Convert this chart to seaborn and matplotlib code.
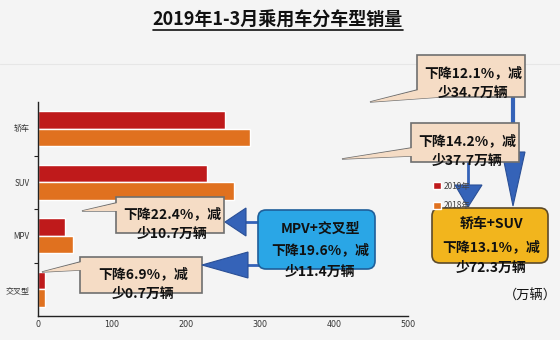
import matplotlib
matplotlib.use("Agg")
import matplotlib.pyplot as plt
import seaborn as sns
import pandas as pd
from matplotlib.patches import Polygon, FancyBboxPatch, Rectangle

categories = ["轿车", "SUV", "MPV", "交叉型"]
sales_2019 = [252.1, 227.8, 37.1, 9.4]
sales_2018 = [286.8, 265.5, 47.8, 10.1]
series = ["2019年", "2018年"]
colors = ["#bf1a1b", "#e0711f"]
x_ticks = [0, 100, 200, 300, 400, 500]

title = "2019年1-3月乘用车分车型销量"
callouts = ["下降12.1%，减\n少34.7万辆", "下降14.2%，减\n少37.7万辆",
            "下降22.4%，减\n少10.7万辆", "下降6.9%，减\n少0.7万辆"]
blue_text = ["MPV+交叉型", "下降19.6%，减", "少11.4万辆"]
gold_text = ["轿车+SUV", "下降13.1%，减", "少72.3万辆"]
unit = "（万辆）"

sns.set_theme(style="white")
plt.rcParams["font.family"] = ["Noto Sans CJK SC", "DejaVu Sans"]

df = pd.DataFrame({
    "车型": categories * 2,
    "销量": sales_2019 + sales_2018,
    "年份": [series[0]] * 4 + [series[1]] * 4,
})

W, H = 560, 340
bg = "#f4f4f4"
fig = plt.figure(figsize=(W / 100, H / 100), dpi=100, facecolor=bg)
ax = fig.add_axes([38 / W, 1 - 316 / H, (408 - 38) / W, (316 - 102) / H])
ax.set_facecolor(bg)
sns.barplot(data=df, y="车型", x="销量", hue="年份", hue_order=series,
            palette=colors, orient="h", width=0.66, saturation=1,
            order=categories, ax=ax, legend=True)
handles, labels = ax.get_legend_handles_labels()
ax.get_legend().remove()
ax.set_xlim(0, 500)
ax.set_ylim(3.5, -0.5)
ax.set_xticks(x_ticks)
ax.set_xticklabels([str(v) for v in x_ticks], fontsize=5.8, color="#333333", family="DejaVu Sans")
ax.set_yticks(range(4))
ax.set_yticklabels(categories, fontsize=5.8, color="#333333")
ax.set_yticks([0.5, 1.5, 2.5], minor=True)
ax.tick_params(axis="y", which="major", length=0, pad=6)
ax.tick_params(axis="y", which="minor", length=3, width=0.8, color="#222222", left=True)
ax.tick_params(axis="x", length=0, pad=3)
ax.set_xlabel("")
ax.set_ylabel("")
for s in ["top", "right"]:
    ax.spines[s].set_visible(False)
for s in ["left", "bottom"]:
    ax.spines[s].set_color("#222222")
    ax.spines[s].set_linewidth(1.0)

# overlay in pixel coordinates
ov = fig.add_axes([0, 0, 1, 1], facecolor="none")
ov.set_xlim(0, W)
ov.set_ylim(H, 0)
ov.axis("off")

ov.plot([0, W], [64, 64], color="#e6e6e6", lw=0.8)

# title with underline
ov.text(278, 20, title, ha="center", va="center", fontsize=13, fontweight="bold", color="#111111")
ov.plot([153, 403], [29.5, 29.5], color="#111111", lw=1.2)

peach = "#f5dcc5"
edge = "#6f6f6f"
tf = dict(fontsize=10, fontweight="bold", color="#111111", ha="center", va="center",
          linespacing=1.55)

def callout(x0, y0, x1, y1, tip, attach, text, ty):
    ov.add_patch(Polygon([tip, attach[0], attach[1]], closed=True, facecolor=peach,
                         edgecolor=edge, lw=1.0, zorder=3))
    ov.add_patch(Rectangle((x0, y0), x1 - x0, y1 - y0, facecolor=peach, edgecolor=edge,
                           lw=1.2, zorder=4))
    ov.add_patch(Polygon([tip, (attach[0][0] + 1.5, attach[0][1]), (attach[1][0] + 1.5, attach[1][1])],
                         closed=True, facecolor=peach, edgecolor="none", zorder=5))
    ov.text((x0 + x1) / 2 + 2, ty, text, zorder=6, **tf)

# down arrows
blue = "#3563b8"
ov.plot([513, 513], [95, 155], color=blue, lw=3, zorder=2)
ov.add_patch(Polygon([(502, 152), (525, 152), (513, 206)], closed=True, facecolor=blue,
                     edgecolor="#2a4f96", lw=0.8, zorder=2))
ov.plot([468, 468], [160, 186], color=blue, lw=2, zorder=2)
ov.add_patch(Polygon([(455, 185), (482, 185), (468, 207)], closed=True, facecolor=blue,
                     edgecolor="#2a4f96", lw=0.8, zorder=2))

callout(417, 55, 525, 97, (370, 102), [(417, 90), (440, 97)], callouts[0], 83)
callout(411, 123, 519, 162, (342, 159), [(411, 148), (411, 156)], callouts[1], 151)
callout(116, 197, 224, 233, (82, 211), [(116, 203), (116, 211)], callouts[2], 224)
callout(80, 257, 202, 293, (42, 272), [(80, 262), (80, 270)], callouts[3], 284)

# left-pointing arrows from blue box
ov.plot([244, 260], [222, 222], color=blue, lw=2, zorder=2)
ov.add_patch(Polygon([(225, 222), (246, 208), (246, 236)], closed=True, facecolor=blue,
                     edgecolor="#2a4f96", lw=0.8, zorder=7))
ov.plot([246, 260], [265, 265], color=blue, lw=2, zorder=2)
ov.add_patch(Polygon([(202, 265), (248, 252), (248, 278)], closed=True, facecolor=blue,
                     edgecolor="#2a4f96", lw=0.8, zorder=7))

# blue box
ov.add_patch(FancyBboxPatch((258, 210), 117, 59, boxstyle="round,pad=0,rounding_size=8",
                            facecolor="#2aa6e6", edgecolor="#1f5f9a", lw=1.2, zorder=3))
for t, y in zip(blue_text, [229, 250, 272]):
    ov.text(320, y, t, zorder=6, **{k: v for k, v in tf.items() if k != "linespacing"})

# gold box
ov.add_patch(FancyBboxPatch((432, 208), 116, 55, boxstyle="round,pad=0,rounding_size=8",
                            facecolor="#f2b51d", edgecolor="#5c4a2a", lw=1.2, zorder=3))
for t, y in zip(gold_text, [224, 247, 268]):
    ov.text(491, y, t, zorder=6, **{k: v for k, v in tf.items() if k != "linespacing"})

# legend
fig.legend(handles, labels, loc="upper left", bbox_to_anchor=(425 / W, 1 - 174 / H),
           frameon=False, fontsize=6, handlelength=1.0, handleheight=1.0,
           handletextpad=0.4, labelspacing=1.3, labelcolor="#444444")

ov.text(530, 296, unit, ha="center", va="center", fontsize=9.5, color="#111111")

fig.savefig("out.png", dpi=100, facecolor=bg)
